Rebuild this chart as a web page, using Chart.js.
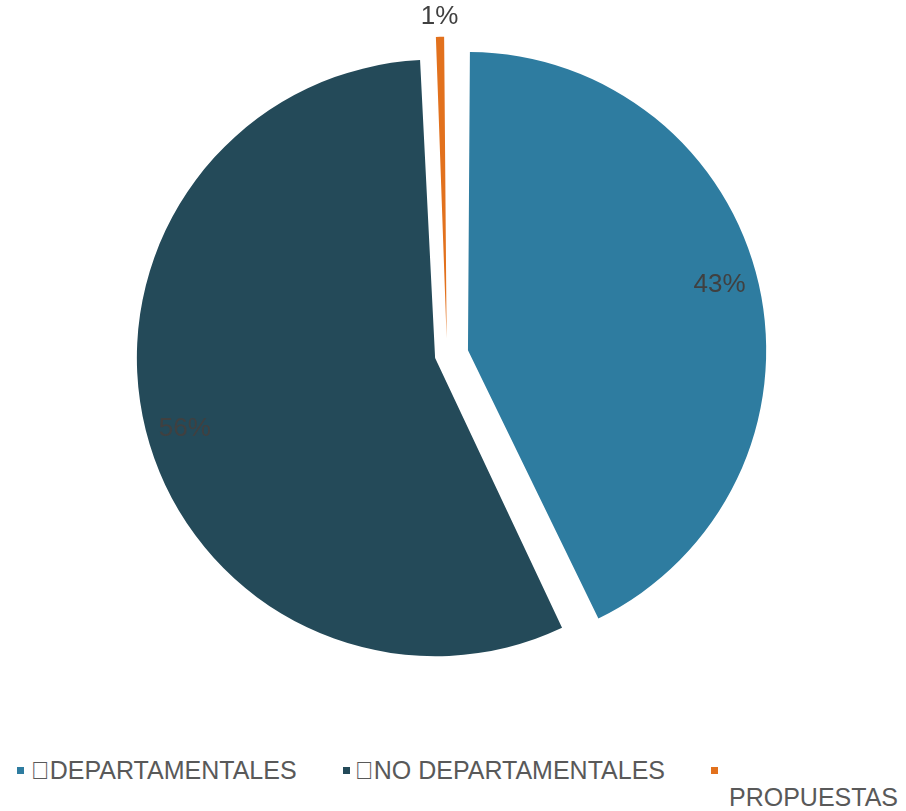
<!DOCTYPE html>
<html>
<head>
<meta charset="utf-8">
<script src="https://cdn.jsdelivr.net/npm/chart.js@4.4.0/dist/chart.umd.min.js"></script>
<style>
    html, body { margin: 0; padding: 0; background: #fff; }
    body { width: 906px; height: 811px; position: relative; overflow: hidden; font-family: 'Liberation Sans', Arial, sans-serif; }
    #wrap { position: absolute; left: 0; top: 0; width: 906px; height: 740px; }
    .leg { position: absolute; font-size: 25px; line-height: 25px; color: #595959; white-space: nowrap; }
    .mark { position: absolute; width: 7px; height: 7px; }
</style>
</head>
<body>
<div id="wrap"><canvas id="pieChart"></canvas></div>
<div id="legend"></div>
<script>
// Pie data
const categories = ['\uF0A7DEPARTAMENTALES', '\uF0A7NO DEPARTAMENTALES', 'PROPUESTAS'];
const shares = [42.9, 56.4, 0.7];
const colors = ['#2E7CA0', '#244A59', '#E2711D'];
// explosion of every slice (chart.js offset units)
const explode = [86, 49, 66];

window.addEventListener('DOMContentLoaded', () => {
    const total = shares.reduce((a, b) => a + b, 0);

    // percent labels, inside for big slices and outside for the small one
    const pctLabels = {
        id: 'pctLabels',
        afterDatasetsDraw(chart) {
            const ctx = chart.ctx;
            const arcs = chart.getDatasetMeta(0).data;
            ctx.save();
            ctx.font = '26px "Liberation Sans", Arial, sans-serif';
            ctx.fillStyle = '#404040';
            ctx.textAlign = 'center';
            ctx.textBaseline = 'middle';
            arcs.forEach((arc, i) => {
                const mid = (arc.startAngle + arc.endAngle) / 2;
                const t = (arc.options.offset || 0) / 4;
                const fix = 1 - Math.sin(Math.min(Math.PI, arc.circumference));
                const r = arc.outerRadius + t * fix;
                const cx = arc.x + Math.cos(mid) * t;
                const cy = arc.y + Math.sin(mid) * t;
                const pct = shares[i] / total * 100;
                const d = pct < 5 ? r + 20 : r * 0.865;
                // nudge a bit toward the top like the original layout
                const lift = pct < 5 ? 0 : (Math.cos(mid) > 0 ? -8 : 8);
                ctx.fillText(Math.round(pct) + '%', cx + Math.cos(mid) * d, cy + Math.sin(mid) * d + lift);
            });
            ctx.restore();
        }
    };

    const ctx = document.getElementById('pieChart').getContext('2d');
    new Chart(ctx, {
        type: 'pie',
        data: {
            labels: categories,
            datasets: [{
                data: shares,
                backgroundColor: colors,
                borderWidth: 0,
                offset: explode,
                hoverOffset: 0,
                radius: 286
            }]
        },
        options: {
            responsive: true,
            maintainAspectRatio: false,
            animation: false,
            layout: { padding: { left: 0, right: 12, top: 0, bottom: 30 } },
            plugins: {
                legend: { display: false },
                tooltip: { enabled: false }
            }
        },
        plugins: [pctLabels]
    });

    // legend below the pie, last item wraps like the original
    const legendPos = [
        { mx: 17, my: 767, tx: 31, ty: 758 },
        { mx: 343, my: 767, tx: 355, ty: 758 },
        { mx: 711, my: 767, tx: 729, ty: 785 }
    ];
    const legend = document.getElementById('legend');
    categories.forEach((name, i) => {
        const p = legendPos[i];
        const m = document.createElement('div');
        m.className = 'mark';
        m.style.left = p.mx + 'px';
        m.style.top = p.my + 'px';
        m.style.background = colors[i];
        legend.appendChild(m);
        const t = document.createElement('div');
        t.className = 'leg';
        t.style.left = p.tx + 'px';
        t.style.top = p.ty + 'px';
        t.textContent = name;
        legend.appendChild(t);
    });
});
</script>
</body>
</html>
